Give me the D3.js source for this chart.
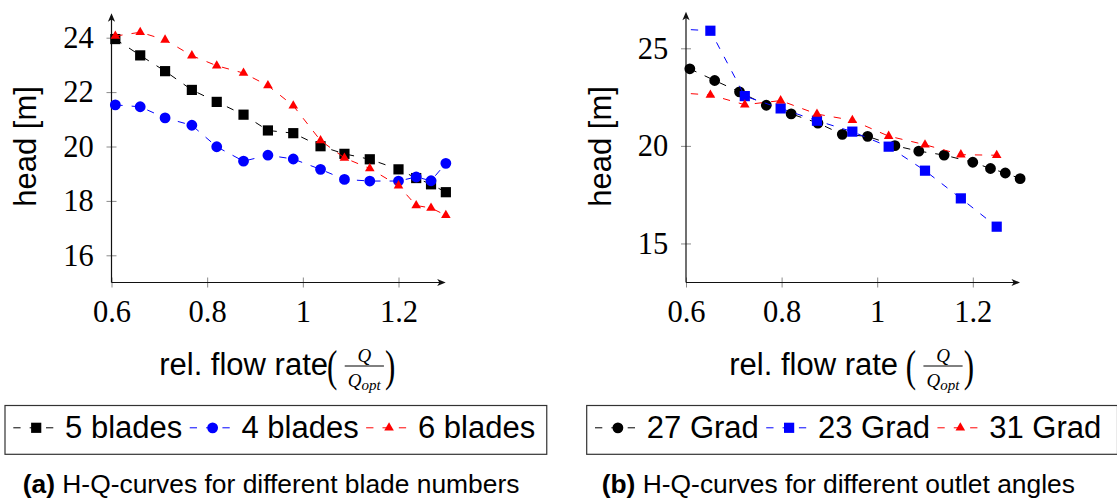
<!DOCTYPE html>
<html>
<head>
<meta charset="utf-8">
<script src="https://cdn.jsdelivr.net/npm/d3@7"></script>
<style>
  body { margin: 0; background: #fff; }
  svg { display: block; }
  .serif { font-family: "Liberation Serif", "Times New Roman", Times, serif; }
  .sans { font-family: "Liberation Sans", Arial, Helvetica, sans-serif; }
</style>
</head>
<body>
<svg id="fig" width="1117" height="500"></svg>
<script>
// ---- measured H-Q data -------------------------------------------------
// relative flow rate Q/Qopt of the blade-number runs and the 27° impeller
const flowRateA = [0.608, 0.66, 0.712, 0.768, 0.82, 0.876, 0.927, 0.98, 1.037, 1.087, 1.14, 1.2, 1.237, 1.268, 1.299];
const head5Blades = [23.95, 23.35, 22.77, 22.08, 21.64, 21.17, 20.59, 20.49, 20.01, 19.73, 19.53, 19.16, 18.84, 18.61, 18.32];
const head4Blades = [21.53, 21.46, 21.05, 20.78, 19.99, 19.46, 19.68, 19.54, 19.16, 18.79, 18.73, 18.73, 18.88, 18.74, 19.38];
const head6Blades = [24.06, 24.2, 23.92, 23.34, 22.97, 22.7, 22.24, 21.5, 20.22, 19.58, 19.19, 18.56, 17.83, 17.74, 17.47];
const head27Grad = [23.95, 23.35, 22.77, 22.08, 21.64, 21.17, 20.59, 20.49, 20.01, 19.73, 19.53, 19.16, 18.84, 18.61, 18.32];

// relative flow rate of the 23° / 31° impellers (first point lies below Q/Qopt = 0.6)
const flowRateB = [0.576, 0.651, 0.723, 0.798, 0.874, 0.948, 1.024, 1.1, 1.175, 1.25];
const head23Grad = [26.0, 25.9, 22.55, 21.92, 21.29, 20.73, 19.96, 18.73, 17.31, 15.86];
const head31Grad = [22.73, 22.61, 22.11, 22.32, 21.63, 21.31, 20.5, 20.06, 19.55, 19.52];

// axis ticks and texts
const xTicks = [0.6, 0.8, 1, 1.2];
const yTicksA = [16, 18, 20, 22, 24];
const yTicksB = [15, 20, 25];
const seriesNamesA = ["5 blades", "4 blades", "6 blades"];
const seriesNamesB = ["27 Grad", "23 Grad", "31 Grad"];
const captionA = ["(a)", " H-Q-curves for different blade numbers"];
const captionB = ["(b)", " H-Q-curves for different outlet angles"];

// ---- drawing ---------------------------------------------------------------
const svg = d3.select("#fig");
const DASH = "7.3,9.05";

const symbols = {
  square: d3.symbol().type(d3.symbolSquare).size(104),
  circle: d3.symbol().type(d3.symbolCircle).size(92),
  triangle: d3.symbol().type(d3.symbolTriangle).size(40)
};

function arrowHead(g, x, y, dir) {
  // small stealth tip; dir "up" or "right"
  const p = dir === "up"
    ? `M${x},${y} L${x - 3.6},${y + 8.5} L${x},${y + 6.3} L${x + 3.6},${y + 8.5} Z`
    : `M${x},${y} L${x - 8.5},${y - 3.6} L${x - 6.3},${y} L${x - 8.5},${y + 3.6} Z`;
  g.append("path").attr("d", p).attr("fill", "#111");
}

function drawPanel(cfg) {
  const g = svg.append("g");
  const x = d3.scaleLinear().domain([0.6, 1.2]).range(cfg.xRange);
  const y = d3.scaleLinear().domain(cfg.yDomain).range(cfg.yRange);
  const x0 = x(0.6), yBase = y(cfg.yDomain[0]);

  // clip region for the curves
  const clipId = "clip" + cfg.id;
  svg.append("clipPath").attr("id", clipId)
    .append("rect").attr("x", x0).attr("y", 0)
    .attr("width", cfg.xTip - x0).attr("height", yBase);

  // axes with ticks crossing the axis lines
  const ax = g.append("g").attr("transform", `translate(0,${yBase})`)
    .call(d3.axisBottom(x).tickValues(xTicks).tickFormat(d3.format("~g"))
      .tickSizeInner(5).tickSizeOuter(0).tickPadding(12.5));
  const ay = g.append("g").attr("transform", `translate(${x0},0)`)
    .call(d3.axisLeft(y).tickValues(cfg.yTicks).tickFormat(d3.format("d"))
      .tickSizeInner(5).tickSizeOuter(0).tickPadding(12.7));
  [ax, ay].forEach(a => {
    a.attr("font-family", null).attr("font-size", null);
    a.select(".domain").remove();
    a.selectAll("text").attr("class", "serif").style("font-size", "30.5px").attr("fill", "#000");
    a.selectAll(".tick line").attr("stroke", "#8a8a8a").attr("stroke-width", 1);
  });
  ax.selectAll(".tick line").attr("y1", -5).attr("y2", 5);
  ay.selectAll(".tick line").attr("x1", 5).attr("x2", -5);

  g.append("line").attr("x1", x0).attr("x2", cfg.xTip - 3).attr("y1", yBase).attr("y2", yBase)
    .attr("stroke", "#111").attr("stroke-width", 1.2);
  g.append("line").attr("x1", x0).attr("x2", x0).attr("y1", yBase).attr("y2", cfg.yTip + 3)
    .attr("stroke", "#111").attr("stroke-width", 1.2);
  arrowHead(g, cfg.xTip, yBase, "right");
  arrowHead(g, x0, cfg.yTip, "up");

  // curves: dashed line, then markers, series by series
  const line = d3.line().x(d => x(d[0])).y(d => y(d[1]));
  cfg.series.forEach(s => {
    const pts = s.q.map((q, i) => [q, s.h[i]]);
    g.append("path").attr("d", line(pts)).attr("fill", "none")
      .attr("stroke", s.color).attr("stroke-width", 1).attr("stroke-dasharray", DASH)
      .attr("clip-path", `url(#${clipId})`);
    g.selectAll(null).data(pts.filter(p => p[0] >= 0.6)).join("path")
      .attr("d", symbols[s.mark]())
      .attr("transform", d => `translate(${x(d[0])},${y(d[1])})`)
      .attr("fill", s.color);
  });

  // y label
  g.append("text").attr("class", "sans")
    .attr("transform", `translate(${cfg.yLabelX},146.5) rotate(-90)`)
    .attr("text-anchor", "middle").style("font-size", "31px")
    .text("head [m]");

  // x label: rel. flow rate (Q / Q_opt)
  const lg = g.append("g");
  const base = 374.8;
  const t = lg.append("text").attr("class", "sans").attr("x", 0).attr("y", base)
    .style("font-size", "31px").text("rel. flow rate");
  const w = t.node().getComputedTextLength() + (cfg.spacedLabel ? 8.6 : 0);
  lg.append("text").attr("class", "serif").style("font-size", "31px")
    .attr("transform", `translate(${w - 1},380.7) scale(1,1.45)`).text("(");
  const fc = w + 36.3;
  lg.append("text").attr("class", "serif").attr("x", fc).attr("y", 361.7).attr("text-anchor", "middle")
    .style("font-style", "italic").style("font-size", "19px").text("Q");
  lg.append("line").attr("x1", fc - 19.6).attr("x2", fc + 19.6).attr("y1", 366).attr("y2", 366)
    .attr("stroke", "#000").attr("stroke-width", 1);
  const den = lg.append("text").attr("class", "serif").attr("x", fc).attr("y", 386.5)
    .attr("text-anchor", "middle").style("font-style", "italic").style("font-size", "19px");
  den.append("tspan").text("Q");
  den.append("tspan").style("font-size", "15px").attr("dy", 3).text("opt");
  lg.append("text").attr("class", "serif").style("font-size", "31px")
    .attr("transform", `translate(${w + 57},380.7) scale(1,1.45)`).text(")");
  const total = w + 70;
  const cx = (x0 + cfg.xTip) / 2;
  lg.attr("transform", `translate(${cx - total / 2},0)`);

  // legend
  const leg = g.append("g");
  const lTop = 405.5, lBot = 454.3, lBase = 438.3;
  const box = leg.append("rect").attr("x", cfg.legendX).attr("y", lTop)
    .attr("height", lBot - lTop).attr("fill", "#fff")
    .attr("stroke", "#333").attr("stroke-width", 1.2);
  let cur = cfg.legendX + 8.3;
  cfg.series.forEach((s, i) => {
    leg.append("line").attr("x1", cur).attr("x2", cur + 45.8).attr("y1", lBase - 10.5).attr("y2", lBase - 10.5)
      .attr("stroke", s.color).attr("stroke-width", 1).attr("stroke-dasharray", DASH);
    leg.append("path").attr("d", symbols[s.mark]())
      .attr("transform", `translate(${cur + 22.9},${lBase - 10.5})`).attr("fill", s.color);
    const tx = leg.append("text").attr("class", "sans").attr("x", cur + 51.8).attr("y", lBase)
      .style("font-size", "31px").text(cfg.names[i]);
    cur = cur + 51.8 + tx.node().getComputedTextLength() + 7.4;
  });
  const rightEdge = Math.max(cur - 7.4 + 11.6, cfg.legendMinRight || 0);
  box.attr("width", rightEdge - cfg.legendX);

  // caption
  const cap = g.append("text").attr("class", "sans").attr("x", cfg.captionX).attr("y", 492.8)
    .style("font-size", "26.4px");
  cap.append("tspan").style("font-weight", "bold").text(cfg.caption[0]);
  cap.append("tspan").style("white-space", "pre").text(cfg.caption[1]);
}

drawPanel({
  id: "A",
  xRange: [111.5, 398.5], xTip: 445.7,
  yDomain: [15, 24], yRange: [282.5, 37.7], yTip: 13.3, yTicks: yTicksA,
  yLabelX: 35.5, spacedLabel: false, legendX: 5, captionX: 22.7,
  names: seriesNamesA, caption: captionA,
  series: [
    { q: flowRateA, h: head5Blades, color: "#000000", mark: "square" },
    { q: flowRateA, h: head4Blades, color: "#0000ff", mark: "circle" },
    { q: flowRateA, h: head6Blades, color: "#ff0000", mark: "triangle" }
  ]
});

drawPanel({
  id: "B",
  xRange: [686, 972.8], xTip: 1020,
  yDomain: [13, 25], yRange: [282.5, 48.3], yTip: 11.7, yTicks: yTicksB,
  yLabelX: 610.5, spacedLabel: true, legendX: 586.7, legendMinRight: 1117.5, captionX: 601.7,
  names: seriesNamesB, caption: captionB,
  series: [
    { q: flowRateA, h: head27Grad, color: "#000000", mark: "circle" },
    { q: flowRateB, h: head23Grad, color: "#0000ff", mark: "square" },
    { q: flowRateB, h: head31Grad, color: "#ff0000", mark: "triangle" }
  ]
});
</script>
</body>
</html>
